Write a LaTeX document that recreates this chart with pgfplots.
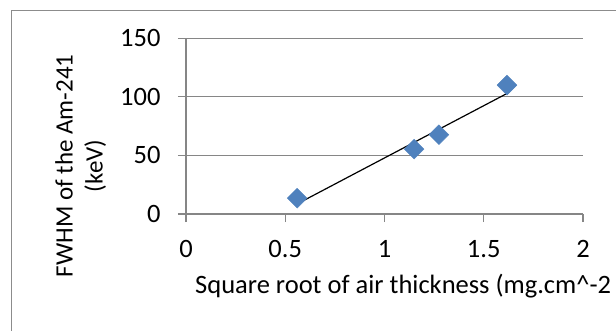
\documentclass[border=0pt]{standalone}
\usepackage{pgfplots}
\pgfplotsset{compat=1.18}
\usepackage{fontspec}
\setmainfont{Carlito}
\definecolor{axgray}{HTML}{868686}
\definecolor{boxgray}{HTML}{8C8C8C}
\definecolor{mblue}{HTML}{4F81BD}
\begin{document}
\begin{tikzpicture}[font=\fontsize{26.5}{30}\selectfont]
\useasboundingbox (0,0) rectangle (616pt,-331pt);
\draw[boxgray, line width=1pt] (11pt,-345pt) -- (11pt,-10.7pt) -- (630pt,-10.7pt);
\begin{axis}[
  at={(186pt,-214pt)}, anchor=south west,
  scale only axis, width=397pt, height=175.7pt,
  xmin=0, xmax=2, ymin=0, ymax=150,
  xtick={0,0.5,1,1.5,2}, ytick={0,50,100,150},
  axis lines*=left,
  axis line style={axgray, line width=1.2pt},
  tick style={axgray, line width=1.2pt},
  tick align=outside, major tick length=8pt,
  ymajorgrids, grid style={axgray, line width=1.2pt},
  /pgf/number format/assume math mode=true,
  ticklabel style={font=\fontsize{26.5}{30}\selectfont, text=black},
  yticklabel style={xshift=-14pt},
  xticklabel style={yshift=-15pt},
  xlabel={Square root of air thickness (mg.cm\textasciicircum-2},
  xlabel style={at={(axis description cs:0.0227,-0.451)}, anchor=base west, inner sep=0pt},
  ylabel={FWHM of the Am-241\\(keV)},
  ylabel style={at={(axis description cs:-0.265,0.274)}, anchor=center, align=center, rotate=0, font=\fontsize{25}{30}\selectfont},
  clip=false,
]
\addplot[only marks, mark=square*, mark size=7pt, mark options={rotate=45, fill=mblue, draw=mblue}]
  coordinates {(0.560,13.5) (1.149,55.4) (1.274,67.7) (1.617,110)};
\addplot[black, line width=1.2pt] coordinates {(0.560,8.6) (1.617,102.9)};
\end{axis}
\end{tikzpicture}
\end{document}
